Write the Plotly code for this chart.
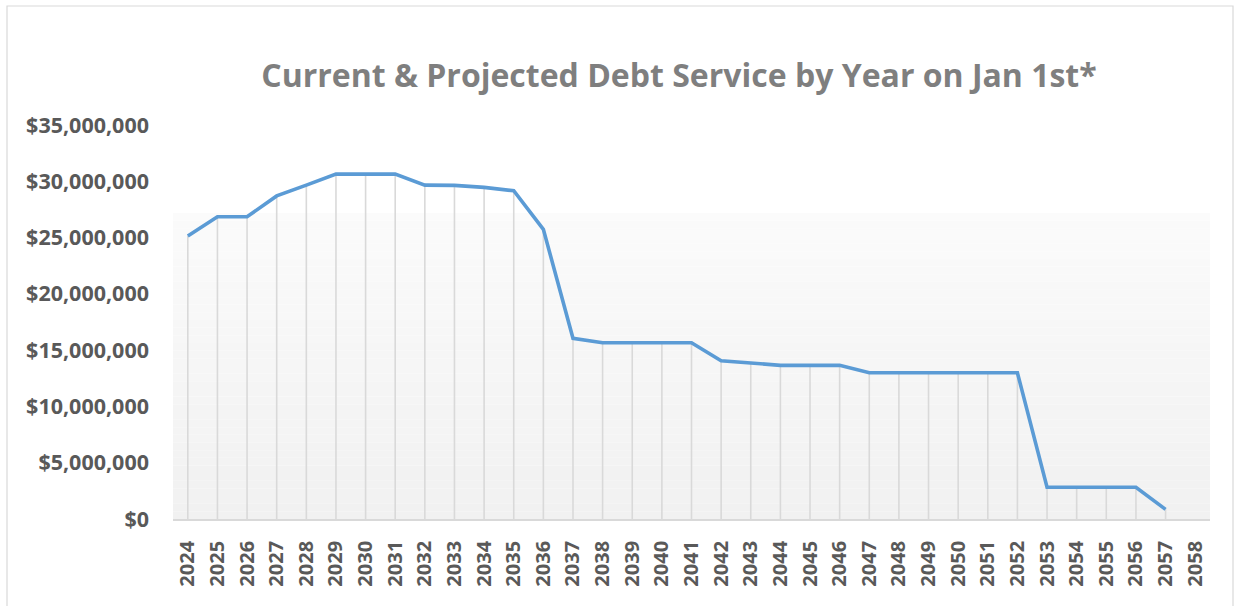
import plotly.graph_objects as go

# Annual debt service, current and projected (USD), by January 1st of each year
years = [str(y) for y in range(2024, 2059)]
debt_service = [
    25130000, 26850000, 26850000, 28700000, 29660000, 30640000, 30640000,
    30640000, 29660000, 29640000, 29460000, 29160000, 25730000, 16050000,
    15660000, 15660000, 15660000, 15660000, 14060000, 13830000, 13650000,
    13650000, 13650000, 12990000, 12990000, 12990000, 12990000, 12990000,
    12990000, 2820000, 2820000, 2820000, 2820000, 860000, None,
]
y_ticks = [0, 5000000, 10000000, 15000000, 20000000, 25000000, 30000000, 35000000]

W, H = 1235, 606
M_L, M_R, M_T, M_B = 173, 25, 125, 87
plot_w = W - M_L - M_R
plot_h = H - M_T - M_B

def px_x(p):
    return (p - M_L) / plot_w

def px_y(p):
    return (H - M_B - p) / plot_h

fig = go.Figure()

# drop lines from each point down to the category axis
fig.add_trace(go.Scatter(
    x=years, y=debt_service, mode="markers",
    marker=dict(size=1, color="rgba(0,0,0,0)"),
    error_y=dict(type="data", symmetric=False,
                 array=[0 if v is not None else None for v in debt_service],
                 arrayminus=debt_service,
                 width=0, thickness=1.6, color="#d9d9d9"),
    hoverinfo="skip", showlegend=False,
))

fig.add_trace(go.Scatter(
    x=years, y=debt_service, mode="lines",
    line=dict(color="#5b9bd5", width=3.6),
    showlegend=False,
))

# soft vertical gradient in the lower part of the plot area
shapes = []
n_strips = 40
g_top = px_y(213)
for i in range(n_strips):
    t = i / n_strips
    c0 = 241 + (251 - 241) * t
    col = int(round(c0))
    shapes.append(dict(
        type="rect", xref="paper", yref="paper",
        x0=0, x1=1, y0=g_top * i / n_strips, y1=g_top * (i + 1) / n_strips,
        fillcolor=f"rgb({col},{col},{col})", line=dict(width=0), layer="below",
    ))

# outer chart border
shapes.append(dict(
    type="rect", xref="paper", yref="paper",
    x0=px_x(7), x1=px_x(1233), y0=px_y(615), y1=px_y(6),
    fillcolor="rgba(0,0,0,0)", line=dict(color="#d9d9d9", width=1.2),
    layer="below",
))

fig.update_layout(
    width=W, height=H,
    margin=dict(l=M_L, r=M_R, t=M_T, b=M_B, pad=0),
    paper_bgcolor="white", plot_bgcolor="white",
    shapes=shapes,
    title=dict(
        text="<b>Current & Projected Debt Service by Year on Jan 1st*</b>",
        font=dict(family="Open Sans", size=32, color="#7f7f7f"),
        x=679 / W, xanchor="center", xref="container",
        y=1 - 76 / H, yanchor="middle", yref="container",
    ),
    xaxis=dict(
        type="category", categoryorder="array", categoryarray=years,
        showgrid=False, zeroline=False,
        showline=True, linecolor="#d9d9d9", linewidth=1.8,
        ticks="", tickangle=-90,
        tickfont=dict(family="Open Sans", size=20, color="#595959", weight="bold"),
        ticklabelstandoff=12,
        range=[-0.5, len(years) - 0.5],
        fixedrange=True,
    ),
    yaxis=dict(
        range=[0, 35000000],
        tickvals=y_ticks, tickformat="$,.0f",
        showgrid=False, zeroline=False, showline=False, ticks="",
        tickfont=dict(family="Open Sans", size=21.5, color="#595959", weight="bold"),
        ticklabelstandoff=23,
        fixedrange=True,
    ),
)

fig.write_html("out.html")
